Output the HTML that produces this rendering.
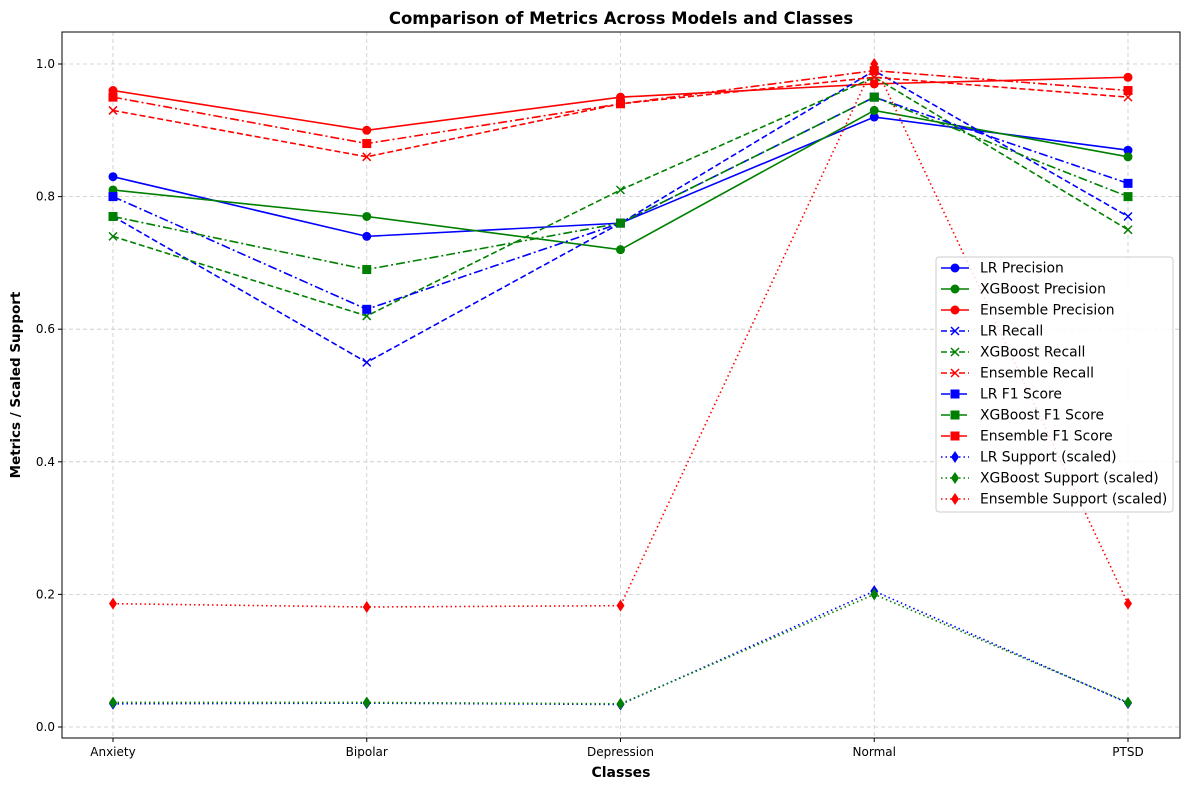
<!DOCTYPE html>
<html><head><meta charset="utf-8"><style>
body{margin:0;background:#fff;font-family:"Liberation Sans","DejaVu Sans",sans-serif}
</style></head><body>
<svg id="chart" width="1189" height="790" xmlns="http://www.w3.org/2000/svg" font-family="DejaVu Sans, Liberation Sans, sans-serif"></svg>
<script>
const categories=["Anxiety","Bipolar","Depression","Normal","PTSD"];
const yTicks=[0.0,0.2,0.4,0.6,0.8,1.0];
const lrPrecision=[0.83,0.74,0.76,0.92,0.87];
const xgbPrecision=[0.81,0.77,0.72,0.93,0.86];
const ensPrecision=[0.96,0.90,0.95,0.97,0.98];
const lrRecall=[0.77,0.55,0.76,0.99,0.77];
const xgbRecall=[0.74,0.62,0.81,0.98,0.75];
const ensRecall=[0.93,0.86,0.94,0.98,0.95];
const lrF1=[0.80,0.63,0.76,0.95,0.82];
const xgbF1=[0.77,0.69,0.76,0.95,0.80];
const ensF1=[0.95,0.88,0.94,0.99,0.96];
const lrSupport=[0.035,0.036,0.034,0.205,0.036];
const xgbSupport=[0.037,0.037,0.035,0.200,0.037];
const ensSupport=[0.186,0.181,0.183,1.0,0.186];
const seriesNames=["LR Precision","XGBoost Precision","Ensemble Precision","LR Recall","XGBoost Recall","Ensemble Recall","LR F1 Score","XGBoost F1 Score","Ensemble F1 Score","LR Support (scaled)","XGBoost Support (scaled)","Ensemble Support (scaled)"];
const seriesData=[lrPrecision,xgbPrecision,ensPrecision,lrRecall,xgbRecall,ensRecall,lrF1,xgbF1,ensF1,lrSupport,xgbSupport,ensSupport];

const svg=document.getElementById('chart');
const NS="http://www.w3.org/2000/svg";
const L=62,R=1180,T=32,B=738;
const x=i=>113+i*(1128-113)/(categories.length-1);
const y=v=>727-v*(727-64);
function mk(tag,attrs,parent){const e=document.createElementNS(NS,tag);for(const k in attrs)e.setAttribute(k,attrs[k]);(parent||svg).appendChild(e);return e;}
const colors=["blue","green","red"];
const dashes=["","6,3","9,3,2,3","1.5,3"];
const markers=["o","x","s","d"];
function marker(type,cx,cy,c,g){
  if(type==="o")return mk('circle',{cx,cy,r:4.5,fill:c},g);
  if(type==="x"){const p=mk('path',{d:`M${cx-4},${cy-4}L${cx+4},${cy+4}M${cx-4},${cy+4}L${cx+4},${cy-4}`,stroke:c,'stroke-width':1.5,fill:'none'},g);return p;}
  if(type==="s")return mk('rect',{x:cx-4.5,y:cy-4.5,width:9,height:9,fill:c},g);
  return mk('path',{d:`M${cx},${cy-6}L${cx+4},${cy}L${cx},${cy+6}L${cx-4},${cy}Z`,fill:c},g);
}
const title=mk('text',{x:621,y:24,'text-anchor':'middle','font-size':16.5,'font-weight':'bold'});title.textContent="Comparison of Metrics Across Models and Classes";


yTicks.forEach(t=>{
  const gl=mk('line',{x1:L,x2:R,y1:y(t),y2:y(t),stroke:'#c8c8c8','stroke-dasharray':'4,3','stroke-width':0.8});
  
  
  mk('line',{x1:L-4,x2:L,y1:y(t),y2:y(t),stroke:'#000'});
  const tl=mk('text',{x:L-7,y:y(t)+4,'text-anchor':'end','font-size':12});tl.textContent=t.toFixed(1);
  
  
});
categories.forEach((c,i)=>{
  const gl=mk('line',{x1:x(i),x2:x(i),y1:T,y2:B,stroke:'#c8c8c8','stroke-dasharray':'4,3','stroke-width':0.8});
  
  
  mk('line',{x1:x(i),x2:x(i),y1:B,y2:B+4,stroke:'#000'});
  const tl=mk('text',{x:x(i),y:B+18,'text-anchor':'middle','font-size':12});tl.textContent=c;
  
  
});
const frame=mk('rect',{x:L,y:T,width:R-L,height:B-T,fill:'none',stroke:'#000','stroke-width':1});


const xt=mk('text',{x:621,y:777,'text-anchor':'middle','font-size':14,'font-weight':'bold'});xt.textContent="Classes";


const yt=mk('text',{x:0,y:0,'text-anchor':'middle','font-size':13.5,'font-weight':'bold',transform:'translate(20,385) rotate(-90)'});yt.textContent="Metrics / Scaled Support";


seriesData.forEach((d,s)=>{
  const c=colors[s%3],m=Math.floor(s/3);
  const g=mk('g',{});
  
  
  const pts=d.map((v,i)=>x(i)+','+y(v)).join(' ');
  const a={points:pts,fill:'none',stroke:c,'stroke-width':1.6};
  if(dashes[m])a['stroke-dasharray']=dashes[m];
  mk('polyline',a,g);
  d.forEach((v,i)=>{const p=marker(markers[m],x(i),y(v),c,g);
    
    });
});
const lg=mk('g',{});


mk('rect',{x:936,y:257,width:237,height:255,rx:3,fill:'#fff','fill-opacity':0.85,stroke:'#ccc'},lg);
seriesNames.forEach((n,s)=>{
  const c=colors[s%3],m=Math.floor(s/3),yy=268+s*21;
  const e=mk('g',{},lg);
  
  
  const a={x1:941,x2:969,y1:yy,y2:yy,stroke:c,'stroke-width':1.6};
  if(dashes[m])a['stroke-dasharray']=dashes[m];
  mk('line',a,e);
  marker(markers[m],955,yy,c,e);
  const t=mk('text',{x:980,y:yy+4.5,'font-size':13,textLength:0},e);t.removeAttribute('textLength');t.textContent=n;
  t.setAttribute('font-size','13.9');
});
</script>
</body></html>
